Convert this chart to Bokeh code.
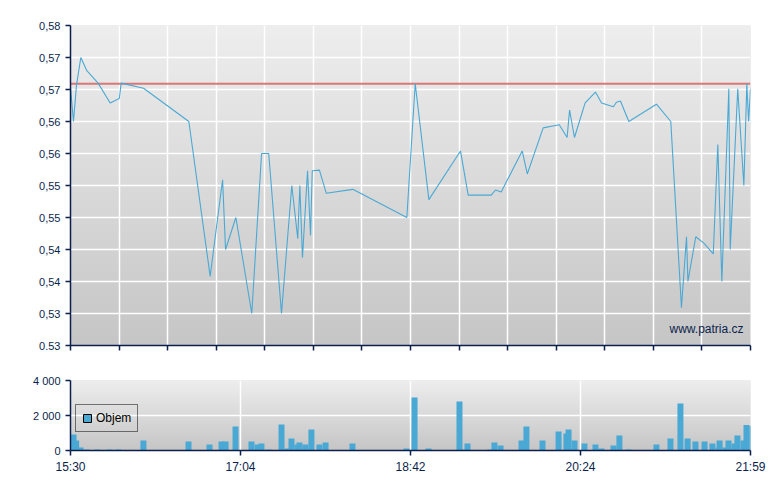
import numpy as np
from bokeh.plotting import figure
from bokeh.layouts import column
from bokeh.models import Range1d, FixedTicker, Span, Label, Legend, LegendItem, ColumnDataSource
from bokeh.embed import file_html
from bokeh.resources import INLINE

# ---- data (x = minutes on the chart's time axis, 0 = 15:30, 389 = 21:59) ----
price_t = [0, 1.7, 3.4, 5.9, 9.2, 15.8, 22.7, 27.9, 29.0, 41.8, 67.7, 79.9, 87.0, 88.7, 94.6,
           103.7, 109.3, 113.4, 120.7, 126.6, 130.0, 131.2, 132.7, 135.6, 137.3, 138.3, 142.4,
           146.3, 161.5, 192.4, 197.2, 205.0, 223.1, 227.5, 240.7, 243.1, 246.4, 258.4, 261.3,
           270.4, 279.6, 284.1, 285.5, 288.3, 294.4, 300.3, 303.8, 310.6, 312.3, 314.6, 319.4,
           335.2, 343.4, 349.5, 352.4, 353.2, 357.7, 362.3, 367.7, 370.3, 372.6, 376.6, 377.4,
           381.7, 385.2, 386.9, 387.9, 389.0]
price_v = [0.5703, 0.5650, 0.5706, 0.5750, 0.5730, 0.5710, 0.5679, 0.5686, 0.5710, 0.5702,
           0.5650, 0.5408, 0.5559, 0.5450, 0.5500, 0.5350, 0.5600, 0.5600, 0.5350, 0.5550,
           0.5467, 0.5550, 0.5437, 0.5573, 0.5472, 0.5573, 0.5574, 0.5538, 0.5544, 0.5500,
           0.5709, 0.5528, 0.5604, 0.5535, 0.5535, 0.5543, 0.5540, 0.5604, 0.5568, 0.5640,
           0.5645, 0.5625, 0.5668, 0.5625, 0.5679, 0.5696, 0.5679, 0.5673, 0.5680, 0.5682,
           0.5650, 0.5677, 0.5650, 0.5359, 0.5470, 0.5400, 0.5470, 0.5460, 0.5443, 0.5614,
           0.5400, 0.5701, 0.5450, 0.5701, 0.5550, 0.5709, 0.5650, 0.5701]
prev_close = 0.5709

vol_t = [0, 1.5, 4.0, 7.4, 13.6, 20.6, 25.7, 40.0, 65.8, 77.8, 84.7, 87.0, 92.7, 101.8, 105.3,
         107.5, 111.6, 119.0, 122.4, 124.7, 128.1, 129.3, 132.7, 134.4, 136.1, 140.7, 144.2,
         159.6, 190.5, 195.1, 203.1, 220.8, 224.2, 225.4, 238.5, 240.8, 244.3, 256.3, 259.1,
         268.3, 277.5, 282.0, 283.2, 286.6, 292.3, 298.6, 302.0, 308.9, 312.3, 317.5, 333.5,
         341.5, 347.2, 350.7, 351.3, 355.8, 361.0, 365.5, 369.0, 369.6, 373.0, 374.7, 378.1,
         379.8, 383.3, 385.0, 388.4]
vol_v = [914, 571, 171, 57, 57, 57, 57, 571, 514, 343, 514, 514, 1371, 514, 343,
         400, 57, 1486, 114, 686, 343, 457, 343, 57, 1200, 343, 457,
         400, 114, 3029, 114, 2800, 57, 400, 57, 457, 286, 571, 1371,
         571, 1086, 971, 1200, 571, 400, 343, 114, 286, 857, 57, 343,
         686, 2686, 57, 686, 514, 514, 400, 171, 571, 171, 571, 400,
         857, 571, 1457, 1400]

price_ticks = [0.530, 0.535, 0.540, 0.545, 0.550, 0.555, 0.560, 0.565, 0.570, 0.575, 0.580]
price_labels = ["0.53", "0,53", "0,54", "0,54", "0,55", "0,55", "0,56", "0,56", "0,57", "0,57", "0,58"]
time_labels = ["15:30", "17:04", "18:42", "20:24", "21:59"]
vol_ticks = [0, 2000, 4000]
vol_labels = ["0", "2 000", "4 000"]

T_END = 389.0
NAVY = "#0b1f4d"
BLUE = "#4aa9d4"
FONT = "Liberation Sans"


def gradient(n=256, top=(0xEE, 0xEE, 0xEE), bottom=(0xC6, 0xC6, 0xC6)):
    img = np.empty((n, 1), dtype=np.uint32)
    view = img.view(dtype=np.uint8).reshape((n, 1, 4))
    f = np.linspace(0, 1, n)
    for c in range(3):
        view[:, 0, c] = (bottom[c] + (top[c] - bottom[c]) * f).astype(np.uint8)
    view[:, 0, 3] = 255
    return img


def style_axes(p):
    for ax in p.axis:
        ax.axis_line_color = NAVY
        ax.axis_line_width = 1.5
        ax.major_tick_line_color = NAVY
        ax.major_tick_line_width = 1.5
        ax.major_tick_out = 5
        ax.major_tick_in = 0
        ax.minor_tick_line_color = None
        ax.major_label_text_font = FONT
        ax.major_label_text_font_size = "11px"
        ax.major_label_text_color = NAVY
    p.grid.grid_line_color = "white"
    p.grid.grid_line_width = 1.5
    p.outline_line_color = None
    p.background_fill_color = "#dddddd"


# ---- upper price panel ----
p = figure(frame_width=680, frame_height=320, output_backend="svg", toolbar_location=None,
           x_range=Range1d(0, T_END), y_range=Range1d(0.530, 0.580),
           min_border_left=70, min_border_right=22, min_border_top=25, min_border_bottom=15)
p.image_rgba(image=[gradient()], x=0, y=0.530, dw=T_END, dh=0.050, level="image")
style_axes(p)
p.yaxis.ticker = FixedTicker(ticks=price_ticks)
p.yaxis.major_label_overrides = {t: l for t, l in zip(price_ticks, price_labels)}
upper_x_ticks = [i * T_END / 14 for i in range(15)]
p.xaxis.ticker = FixedTicker(ticks=upper_x_ticks)
p.xaxis.major_label_overrides = {t: "" for t in upper_x_ticks}
p.xaxis.major_label_standoff = 0
p.add_layout(Span(location=prev_close, dimension="width", line_color="#d86a6a",
                  line_width=2, line_alpha=0.9, level="underlay"))
p.line(price_t, price_v, line_color=BLUE, line_width=1.1)
p.add_layout(Label(x=T_END - 4, y=0.5315, text="www.patria.cz", text_align="right",
                   text_font=FONT, text_font_size="12px", text_color=NAVY))

# ---- lower volume panel ----
q = figure(frame_width=680, frame_height=70, output_backend="svg", toolbar_location=None,
           x_range=p.x_range, y_range=Range1d(0, 4000),
           min_border_left=70, min_border_right=22, min_border_top=20, min_border_bottom=30)
q.image_rgba(image=[gradient()], x=0, y=0, dw=T_END, dh=4000, level="image")
style_axes(q)
q.yaxis.ticker = FixedTicker(ticks=vol_ticks)
q.yaxis.major_label_overrides = {t: l for t, l in zip(vol_ticks, vol_labels)}
q.xaxis.ticker = FixedTicker(ticks=[i * T_END / 4 for i in range(5)])
q.xaxis.major_label_overrides = {i * T_END / 4: l for i, l in enumerate(time_labels)}
q.xaxis.major_label_text_font_size = "12px"
q.xaxis.major_label_standoff = 4

bar_w = 3.43
vsrc = ColumnDataSource(dict(left=vol_t, right=[t + bar_w for t in vol_t], top=vol_v,
                             bottom=[0] * len(vol_t)))
q.quad(left="left", right="right", top="top", bottom="bottom", source=vsrc,
       fill_color=BLUE, line_color=None)
nan = float("nan")
dummy = q.quad(left=[nan], right=[nan], top=[nan], bottom=[nan], fill_color=BLUE,
               line_color="black", line_width=1)
leg = Legend(items=[LegendItem(label="Objem", renderers=[dummy])], location=(5, 18),
             border_line_color="black", border_line_width=1, background_fill_alpha=0,
             label_text_font=FONT, label_text_font_size="12px", label_text_color="black",
             glyph_width=10, glyph_height=10, label_height=14, padding=6, margin=0,
             label_standoff=4, spacing=0)
q.add_layout(leg)

layout = column(p, q, spacing=0)
open("out.html", "w").write(file_html(layout, INLINE))
